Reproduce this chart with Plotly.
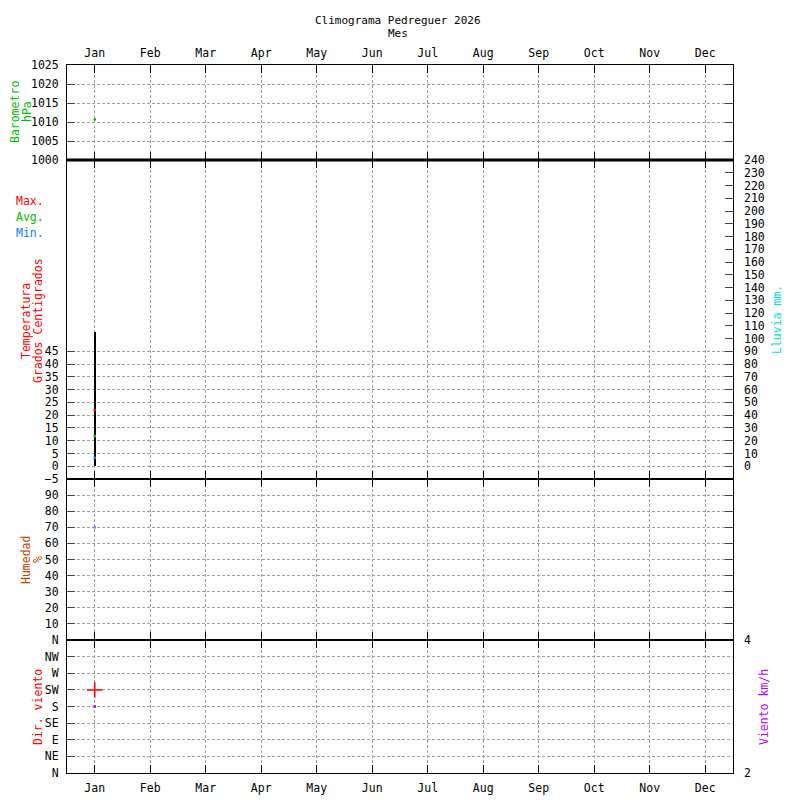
import plotly.graph_objects as go

# data (only January has readings so far)
MONTHS = ["Jan", "Feb", "Mar", "Apr", "May", "Jun", "Jul", "Aug", "Sep", "Oct", "Nov", "Dec"]
MONTH_NUM = [1, 2, 3, 4, 5, 6, 7, 8, 9, 10, 11, 12]

PRESSURE = [1010.7, None, None, None, None, None, None, None, None, None, None, None]
TEMP_MAX = [22.0, None, None, None, None, None, None, None, None, None, None, None]
TEMP_AVG = [11.8, None, None, None, None, None, None, None, None, None, None, None]
TEMP_MIN = [3.3, None, None, None, None, None, None, None, None, None, None, None]
RAIN = [105.5, None, None, None, None, None, None, None, None, None, None, None]
HUMIDITY = [70, None, None, None, None, None, None, None, None, None, None, None]
WIND_DIR = [225, None, None, None, None, None, None, None, None, None, None, None]
WIND_SPEED = [3.0, None, None, None, None, None, None, None, None, None, None, None]

DIR_VALS = [0, 45, 90, 135, 180, 225, 270, 315, 360]
DIR_TEXT = ["N", "NE", "E", "SE", "S", "SW", "W", "NW", "N"]

FONT_FAMILY = "DejaVu Sans Mono"
FONT_SIZE = 11.5
COLOR_GRID = "#a0a0a0"
COLOR_RED = "#ff0000"
COLOR_GREEN = "#00c000"
COLOR_BLUE = "#0080ff"
COLOR_HUM = "#c04000"
COLOR_CYAN = "#00dddd"
COLOR_VIOLET = "#c000ff"

# the html page has an 8px body margin, so the figure is 792 wide and
# positions below are given in page pixels
PAGE_OFF = 8
W, H = 792, 792
L, R, T, B = 67, 733, 65, 773


def px_x(p):
    return (p - L) / (R - L)


def px_y(p):
    return (B - p) / (B - T)


D_BARO = [px_y(160), 1.0]
D_TEMP = [px_y(479), px_y(160)]
D_HUM = [px_y(640), px_y(479)]
D_WIND = [0.0, px_y(640)]

fig = go.Figure()

fig.add_trace(go.Scatter(x=MONTH_NUM, y=PRESSURE, xaxis="x", yaxis="y", mode="markers",
                         marker=dict(symbol="square", size=2.5, color=COLOR_GREEN)))

fig.add_trace(go.Bar(x=MONTH_NUM, y=RAIN, xaxis="x2", yaxis="y2", width=0.018,
                     marker=dict(color="black", line=dict(width=0))))

for vals, col in [(TEMP_MAX, COLOR_RED), (TEMP_AVG, COLOR_GREEN), (TEMP_MIN, COLOR_BLUE)]:
    fig.add_trace(go.Scatter(x=MONTH_NUM, y=vals, xaxis="x2", yaxis="y3", mode="markers",
                             marker=dict(symbol="square", size=2.5, color=col)))

fig.add_trace(go.Scatter(x=MONTH_NUM, y=HUMIDITY, xaxis="x3", yaxis="y4", mode="markers",
                         marker=dict(symbol="square", size=2.5, color="#8080ff")))

fig.add_trace(go.Scatter(x=MONTH_NUM, y=WIND_DIR, xaxis="x4", yaxis="y5", mode="markers",
                         marker=dict(symbol="cross-thin", size=11, color=COLOR_RED,
                                     line=dict(width=1.5, color=COLOR_RED))))
fig.add_trace(go.Scatter(x=MONTH_NUM, y=WIND_SPEED, xaxis="x4", yaxis="y6", mode="markers",
                         marker=dict(symbol="square", size=2.5, color=COLOR_VIOLET)))

grid = dict(showgrid=True, gridcolor=COLOR_GRID, gridwidth=1, griddash="3px,2px")
axline = dict(showline=True, linecolor="black", linewidth=1, zeroline=False, automargin=False)

xbase = dict(range=[0.5, 12.5], tickvals=MONTH_NUM, ticktext=MONTHS, ticks="inside",
             ticklen=8, tickcolor="black", mirror="ticks", **grid, **axline)
yleft = dict(ticks="inside", ticklen=8, ticklabelstandoff=5)
yright = dict(showgrid=False, showline=False, zeroline=False, automargin=False,
              ticklabelstandoff=10)

fig.update_layout(
    width=W, height=H,
    margin=dict(l=L - PAGE_OFF, r=W + PAGE_OFF - R, t=T - PAGE_OFF, b=H + PAGE_OFF - B,
                autoexpand=False),
    paper_bgcolor="white", plot_bgcolor="white",
    showlegend=False, bargap=0,
    font=dict(family=FONT_FAMILY, size=FONT_SIZE, color="black"),
    xaxis=dict(xbase, anchor="y", side="top", showticklabels=True, ticklabelstandoff=2),
    xaxis2=dict(xbase, anchor="y3", matches="x", showticklabels=False),
    xaxis3=dict(xbase, anchor="y4", matches="x", showticklabels=False),
    xaxis4=dict(xbase, anchor="y5", matches="x", side="bottom", showticklabels=True,
                ticklabelstandoff=4),
    yaxis=dict(domain=D_BARO, anchor="x", range=[1000, 1025], tickvals=[1000, 1005, 1010, 1015, 1020, 1025],
               mirror="ticks", **yleft, **grid, **axline),
    yaxis2=dict(domain=D_TEMP, anchor="x2", side="right", range=[-10, 240],
                tickvals=list(range(0, 250, 10)), ticks="inside", ticklen=8, **yright),
    yaxis3=dict(domain=D_TEMP, anchor="x2", overlaying="y2", side="left", range=[-5, 120],
                tickvals=list(range(-5, 50, 5)), mirror=True, **yleft, **grid, **axline),
    yaxis4=dict(domain=D_HUM, anchor="x3", range=[0, 100], tickvals=list(range(10, 100, 10)),
                mirror="ticks", **yleft, **grid, **axline),
    yaxis5=dict(domain=D_WIND, anchor="x4", range=[0, 360], tickvals=DIR_VALS, ticktext=DIR_TEXT,
                mirror=True, **yleft, **grid, **axline),
    yaxis6=dict(domain=D_WIND, anchor="x4", overlaying="y5", side="right", range=[2, 4],
                tickvals=[2, 4], ticks="", **yright),
)

# thick separator between barometer and temperature panels
fig.add_shape(type="line", xref="paper", yref="paper", x0=0, x1=1, y0=px_y(160), y1=px_y(160),
              line=dict(color="black", width=3))
for yb in [479, 640]:
    fig.add_shape(type="line", xref="paper", yref="paper", x0=0, x1=1, y0=px_y(yb), y1=px_y(yb),
                  line=dict(color="black", width=1.5))


def note(text, x, y, color="black", angle=0, xanchor="center", size=FONT_SIZE):
    fig.add_annotation(text=text, xref="paper", yref="paper", x=px_x(x), y=px_y(y),
                       xanchor=xanchor, yanchor="middle", showarrow=False, textangle=angle,
                       borderpad=0, font=dict(family=FONT_FAMILY, size=size, color=color))


note("Climograma Pedreguer 2026", 398, 20.5, size=11)
note("Mes", 398, 33.5, size=11)
note("Barometro", 15, 112, COLOR_GREEN, -90)
note("hPa", 27, 112, COLOR_GREEN, -90)
note("Max.", 15, 201, COLOR_RED, xanchor="left")
note("Avg.", 15, 217, COLOR_GREEN, xanchor="left")
note("Min.", 15, 233, COLOR_BLUE, xanchor="left")
note("Temperatura", 26, 321, COLOR_RED, -90)
note("Grados Centigrados", 38, 321, COLOR_RED, -90)
note("Humedad", 26, 560, COLOR_HUM, -90)
note("%", 38, 560, COLOR_HUM, -90)
note("Dir. viento", 38, 707, COLOR_RED, -90)
note("Lluvia mm.", 777, 320, COLOR_CYAN, -90)
note("Viento km/h", 764, 707, COLOR_VIOLET, -90)

fig.write_html("out.html")
